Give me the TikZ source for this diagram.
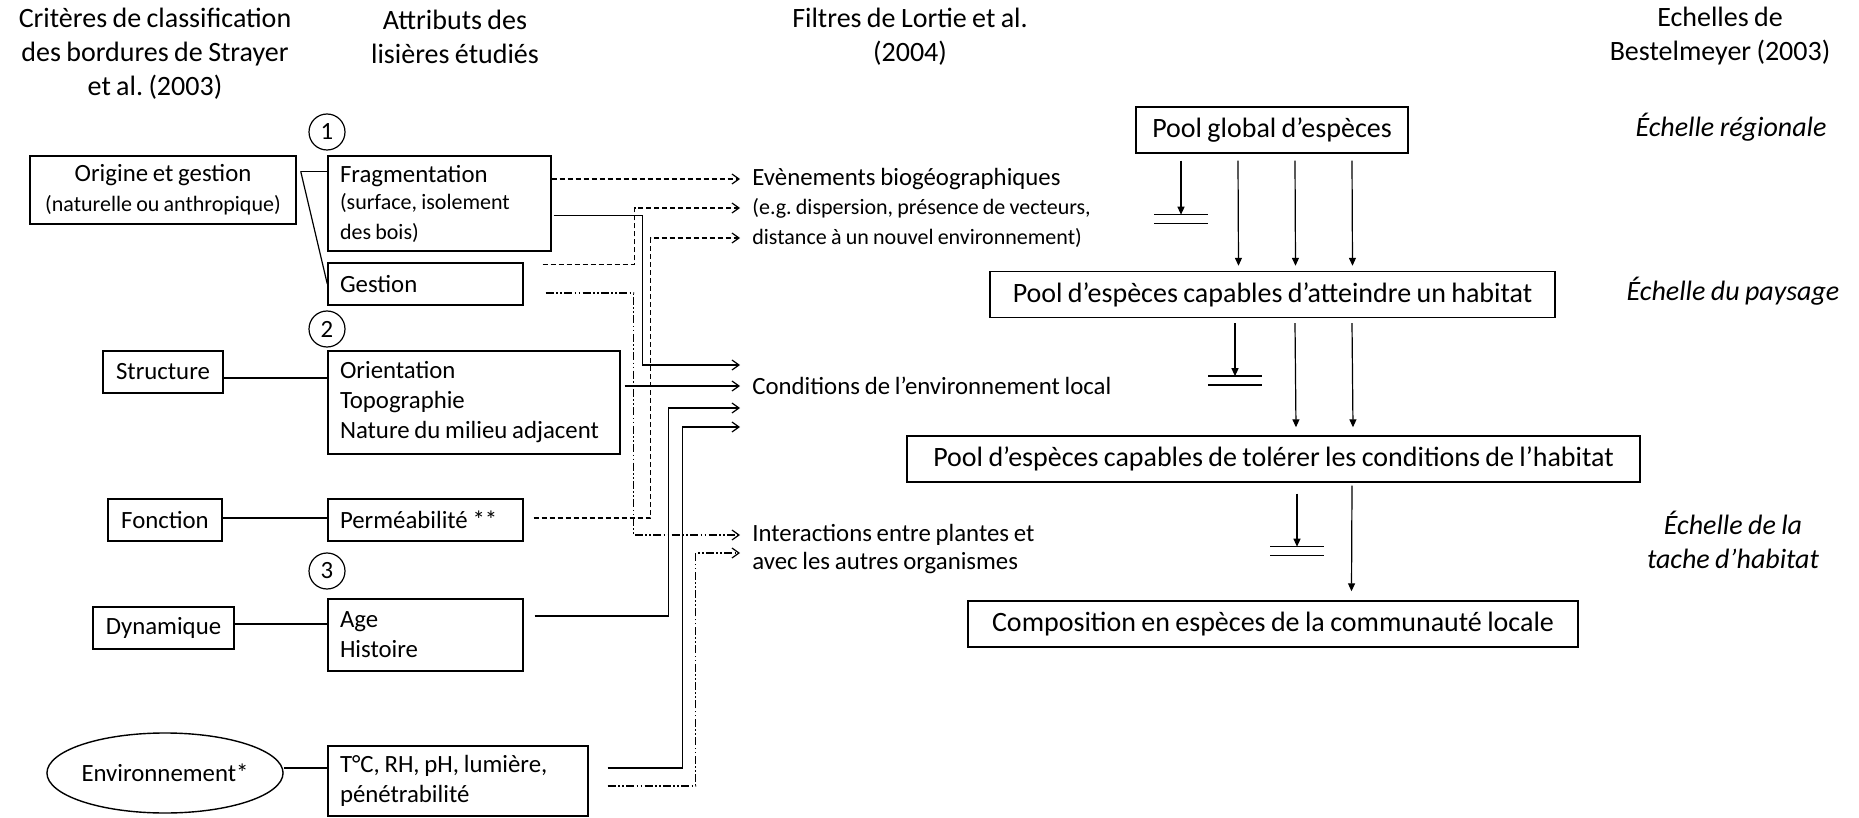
\documentclass[tikz,border=0pt]{standalone}
\usepackage{fontspec}
\setmainfont{Carlito}[WordSpace=0.85]
\usepackage{tikz}
\usetikzlibrary{arrows.meta, shapes.geometric, positioning, calc}

\newcommand{\txtbox}{\fontsize{12.4}{15}\selectfont}
\newcommand{\txtlab}{\fontsize{12.4}{15}\selectfont}
\newcommand{\txtsmall}{\fontsize{11}{13.5}\selectfont}
\newcommand{\txthead}{\fontsize{14}{17}\selectfont}

\begin{document}
\frenchspacing\hyphenpenalty=10000\exhyphenpenalty=10000
\begin{tikzpicture}[
  x=0.5pt, y=-0.5pt, >={Triangle[length=4pt,width=3.5pt]},
  boxed/.style={draw, line width=0.7pt, inner xsep=6pt, inner ysep=0pt, font=\txtbox},
  crit/.style={boxed, align=center, minimum height=21pt},
  attr/.style={boxed, align=flush left},
  pool/.style={draw, line width=0.7pt, minimum height=23pt, font=\txthead},
  filt/.style={anchor=west, inner sep=2pt, font=\txtlab},
  num/.style={draw, circle, line width=0.6pt, minimum size=18pt, inner sep=0pt, font=\txtlab},
  head/.style={align=center, font=\txthead},
  scalelab/.style={align=center, font=\txthead\itshape},
  link/.style={line width=0.6pt},
  feed/.style={link, shorten >=4pt, -{Straight Barb[length=3.5pt,width=5pt]}},
  dashline/.style={feed, dash pattern=on 2.5pt off 1.5pt},
  dotline/.style={feed, dash pattern=on 4pt off 1.2pt on 0.8pt off 1.2pt on 0.8pt off 1.2pt},
  vflow/.style={link, ->},
  stopbar/.style={line width=0.7pt}]
  \useasboundingbox (0,0) rectangle (1859,818);

  \node[head] (hcrit) at (155,54) {Critères de classification\\des bordures de Strayer\\et al. (2003)};
  \node[head] (hattr) at (455,37) {Attributs des\\lisières étudiés};
  \node[head] (hfilt) at (910,37) {Filtres de Lortie et al.\\(2004)};
  \node[head] (hech) at (1720,36) {Echelles de\\Bestelmeyer (2003)};

  % criteres
  \node[crit, minimum width=133pt, minimum height=34pt] (origine) at (163,190)
    {Origine et gestion\\{\txtsmall (naturelle ou anthropique)}};
  \node[crit, minimum width=60pt] (struct) at (163,372) {Structure};
  \node[crit, minimum width=57pt] (fonct) at (165,520) {Fonction};
  \node[crit, minimum width=70.5pt] (dyna) at (163.5,628) {Dynamique};
  \node[draw, ellipse, line width=0.7pt, minimum width=108pt, minimum height=40pt,
        inner sep=0pt, font=\txtbox] (env) at (165,773) {Environnement*};

  % attributs
  \node[num] (n1) at (327,132) {1};
  \node[num] (n2) at (327,329) {2};
  \node[num] (n3) at (327,571) {3};
  \node[attr, text width=99.5pt, minimum height=47.5pt] (frag) at (439.5,203.5)
    {Fragmentation\\\txtsmall (surface, isolement\\des bois)};
  \node[attr, text width=85.5pt, minimum height=21pt] (gestion) at (425.5,284) {Gestion};
  \node[attr, text width=134pt, minimum height=51.5pt] (orient) at (474,402.5)
    {Orientation\\Topographie\\Nature du milieu adjacent};
  \node[attr, text width=85.5pt, minimum height=21pt] (perm) at (425.5,520) {Perméabilité **};
  \node[attr, text width=85.5pt, minimum height=36pt] (age) at (425.5,635) {Age\\Histoire};
  \node[attr, text width=118pt, minimum height=35pt] (tc) at (458,781)
    {T°C, RH, pH, lumière,\\pénétrabilité};

  % filtres
  \node[filt] (evt1) at (748,179) {Evènements biogéographiques};
  \node[filt, font=\txtsmall] (evt2) at (748,208) {(e.g. dispersion, présence de vecteurs,};
  \node[filt, font=\txtsmall] (evt3) at (748,238) {distance à un nouvel environnement)};
  \node[filt] (cond) at (748,386) {Conditions de l’environnement local};
  \node[filt] (inter1) at (748,535) {Interactions entre plantes et};
  \node[filt] (inter2) at (748,563) {avec les autres organismes};
  \coordinate (cin1) at ($(cond.west)+(0,-21)$);
  \coordinate (cin3) at ($(cond.west)+(0,22)$);
  \coordinate (cin4) at ($(cond.west)+(0,41)$);
  \coordinate (iin2) at ($(inter2.west)+(0,-10)$);

  % echelles
  \node[pool, minimum width=136pt] (pglobal) at (1272,130) {Pool global d’espèces};
  \node[pool, minimum width=282.5pt] (patteint) at (1272.5,294.5)
    {Pool d’espèces capables d’atteindre un habitat};
  \node[pool, minimum width=366.5pt] (ptoler) at (1273.5,459)
    {Pool d’espèces capables de tolérer les conditions de l’habitat};
  \node[pool, minimum width=305pt] (pcompo) at (1273,624)
    {Composition en espèces de la communauté locale};
  \node[scalelab] (sreg) at (1731,127) {Échelle régionale};
  \node[scalelab] (spay) at (1733,291) {Échelle du paysage};
  \node[scalelab] (stache) at (1733,540) {Échelle de la\\tache d’habitat};

  \coordinate (ojoint) at ($(origine.north east)+(4,16)$);
  \draw[link] (ojoint) -- (ojoint -| frag.west);
  \draw[link] (ojoint) -- (gestion.west);
  \draw[link] ([yshift=-3pt]struct.east) -| (orient.west);
  \draw[link] ([yshift=1pt]fonct.east) -| (perm.west);
  \draw[link] ([yshift=2pt]dyna.east) -| (age.west);
  \draw[link] ([yshift=2.5pt]env.east) -| (tc.west);

  \draw[dashline] (frag.east |- evt1.west) -- (evt1.west);
  \draw[dashline] ($(gestion.north east)+(19,2)$) -- ++(92,0) |- (evt2.west);
  \draw[dashline] ($(perm.east)+(10,-2)$) -- ++(117,0) |- (evt3.west);
  \draw[dotline] ($(gestion.east)+(22,9)$) -- ++(88,0) |- (inter1.west);
  \draw[dotline] ($(tc.east)+(19,5)$) -- ++(88,0) |- (iin2);
  \draw[feed] ($(frag.north east)+(2,60)$) -- ++(89,0) |- (cin1);
  \draw[feed] ($(orient.east)+(4,-16.5)$) -- (cond.west);
  \draw[feed] ($(age.east)+(11,-19)$) -- ++(134,0) |- (cin3);
  \draw[feed] ($(tc.east)+(19,-13)$) -- ++(75,0) |- (cin4);

  \foreach \dx in {-34,23,80}
    \draw[vflow] ($(pglobal.south)+(\dx,7)$) -- ($(patteint.north)+(\dx,-5)$);
  \foreach \dx in {22.5,79.5}
    \draw[vflow] ($(patteint.south)+(\dx,5)$) -- ($(ptoler.north)+(\dx,-8)$);
  \draw[vflow] ($(ptoler.south)+(78.5,3)$) -- ($(pcompo.north)+(78.5,-9)$);

  \coordinate (bar1) at ($(pglobal.south)+(-91,61)$);
  \coordinate (bar2) at ($(patteint.south)+(-37.5,58)$);
  \coordinate (bar3) at ($(ptoler.south)+(23.5,64)$);
  \draw[vflow] ($(pglobal.south)+(-91,7)$) -- (bar1);
  \draw[vflow] ($(patteint.south)+(-37.5,5)$) -- (bar2);
  \draw[vflow] ($(ptoler.south)+(23.5,11)$) -- (bar3);
  \foreach \b in {bar1,bar2,bar3}
    \draw[stopbar] ($(\b)+(-27,0)$) -- ++(54,0) ($(\b)+(-27,9)$) -- ++(54,0);
\end{tikzpicture}
\end{document}
